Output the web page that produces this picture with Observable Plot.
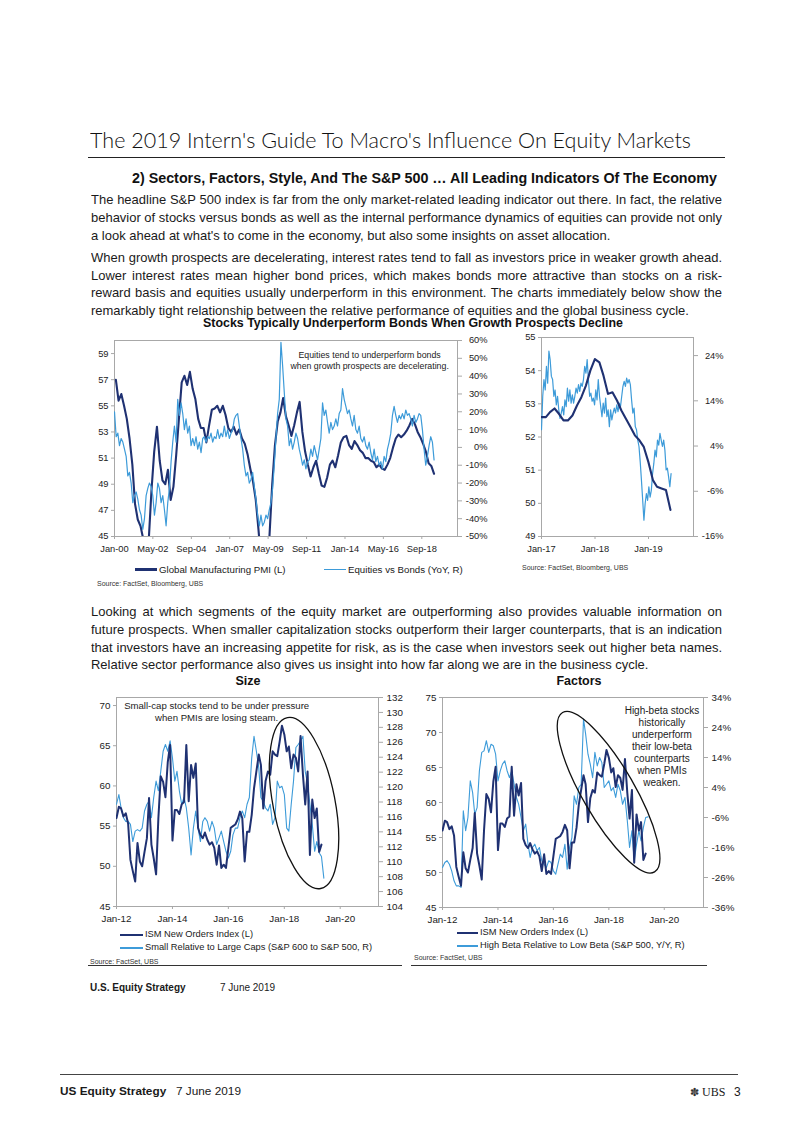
<!DOCTYPE html>
<html><head><meta charset="utf-8"><title>Macro's Influence On Equity Markets</title>
<script src="https://cdn.jsdelivr.net/npm/d3@7"></script>
<script src="https://cdn.jsdelivr.net/npm/@observablehq/plot@0.6"></script>
<style>
html,body{margin:0;padding:0;background:#fff}
#page{position:relative;width:802px;height:1133px;overflow:hidden;background:#fff;color:#1a1a1a}
.t{position:absolute;white-space:nowrap}
.rule{position:absolute;height:0}
.sw{position:absolute}
</style></head>
<body><div id="page"></div>
<script>
// ================= DATA =================
// Chart 1: Stocks vs Bonds (Jan-2000 .. May-2019)
const chart1XTicks = ["2000-01","2002-05","2004-09","2007-01","2009-05","2011-09","2014-01","2016-05","2018-09"];
const chart1LeftTicks = [45,47,49,51,53,55,57,59];
const chart1RightTicks = [-50,-40,-30,-20,-10,0,10,20,30,40,50,60];
// Global Manufacturing PMI, every second month from Jan-2000 to May-2019
const globalPmi = [57.0,55.4,55.9,55.0,54.0,52.5,50.5,47.5,46.3,45.8,
  44.8,44.0,44.8,48.5,51.5,53.4,50.8,49.3,49.0,50.1,
  47.8,48.8,51.2,54.0,56.8,57.3,56.6,57.6,56.3,55.5,
  54.0,53.3,53.3,52.2,53.5,54.7,54.8,55.0,54.5,55.0,
  54.3,53.3,53.0,53.4,52.8,53.2,52.5,52.1,51.3,50.2,
  49.2,47.8,45.5,43.0,41.0,42.5,45.0,49.0,52.0,53.8,
  54.5,55.6,54.2,53.5,52.7,53.5,54.5,55.3,53.0,51.5,
  50.5,49.6,50.3,50.8,49.8,48.9,48.8,49.5,50.5,50.8,
  50.3,51.2,52.2,52.6,52.7,52.0,51.7,52.3,52.0,51.6,
  51.4,51.0,51.0,50.8,50.7,50.3,50.5,50.2,50.1,50.5,
  51.0,51.8,52.5,52.8,52.6,52.8,53.1,53.5,54.0,53.6,
  53.0,52.6,52.1,51.5,50.6,50.4,49.8];
// Equities vs Bonds (YoY %, right axis), evenly spaced observations Jan-2000 .. May-2019
const equitiesVsBonds = [20,6,8,1,5,3,-1,-5,-16,-14,-20,-31,-27,-25,-29,-35,-38,-46,-40,-27,
  -23,-20,-22,-27,-38,-31,-20,-23,-31,-27,-35,-44,-31,-23,-8,3,12,3,27,18,
  25,19,10,16,8,12,1,5,1,6,-1,3,-3,5,6,3,6,5,8,3,
  6,5,10,5,8,6,12,6,10,5,8,10,16,18,19,12,5,-1,-10,-16,
  -14,-20,-18,-14,-22,-29,-38,-44,-38,-44,-42,-38,-40,-35,-31,-23,-10,5,19,27,
  59,46,31,16,12,1,5,-1,3,8,5,-1,-5,-10,-7,-12,-8,-7,-1,-5,
  1,-3,-7,-1,5,25,18,21,14,8,14,10,12,16,12,19,21,33,27,23,
  19,21,16,12,18,10,8,12,5,3,6,1,-1,3,-3,-7,-1,-8,-5,-10,
  -8,-12,-5,-8,-1,3,8,18,23,18,14,18,16,19,16,21,18,19,16,12,
  18,14,16,19,18,10,-1,-10,-5,1,6,3,-7];

// Chart 2: inset (Jan-2017 .. May-2019)
const insetXTicks = ["2017-01","2018-01","2019-01"];
const insetLeftTicks = [49,50,51,52,53,54,55];
const insetRightTicks = [-16,-6,4,14,24];
// monthly, Dec-2016 .. May-2019 (month-end)
const insetPmi = [52.6,52.6,52.75,52.86,52.7,52.5,52.5,52.65,52.95,53.2,53.55,54.0,54.35,
  54.25,53.85,53.3,53.35,53.1,52.8,52.55,52.3,52.05,51.9,51.7,51.25,50.7,50.5,50.45,50.4,49.8];
// Equities vs Bonds (YoY %), evenly spaced observations Jan-2017 .. early Jun-2019
const insetEqVsBonds = [7.6,15,18.7,16.4,21.6,17.9,25,23.1,19.4,18.7,
  15,16.4,13.1,15,12,10.1,11.3,12.7,10.9,14.2,
  12.7,16.8,13.9,16.4,13.5,15.3,13.5,15,16.8,15.7,
  17.6,16.1,17.9,17.2,18.7,21.6,20.1,23.1,18.7,15,
  15.7,13.9,14.6,13.1,16.4,14.2,18.7,15,12.7,10.5,
  13.5,11.3,14.6,10.5,12,8.3,12,9.8,11.3,12.4,
  11.3,13.1,11.6,13.5,12.7,15,17.2,18.3,17.2,19,
  17.9,18.7,17.6,14.2,11.3,12.4,8.3,7.6,5.3,3.9,
  0.5,-3.6,-8,-12.4,-8.7,-6.5,-8,-5,-7.3,-5.8,
  -2.1,0.1,3.1,1.6,5.3,4.2,6.8,5.3,3.9,5.3,
  3.1,-1.3,-0.9,-2.8,-5,-2.1];

// Charts 3 & 4: Size and Factors (monthly from Jan-2012)
const bottomXTicks = ["2012-01","2014-01","2016-01","2018-01","2020-01"];
const sizeLeftTicks = [45,50,55,60,65,70];
const sizeRightTicks = [104,106,108,110,112,114,116,118,120,122,124,126,128,130,132];
const factorsLeftTicks = [45,50,55,60,65,70,75];
const factorsRightTicks = [-36,-26,-16,-6,4,14,24,34];
// ISM New Orders Index, Jan-2012 .. May-2019
const ismNewOrders = [56.0,57.4,57.2,56.2,56.6,55.3,50.8,49.4,48.1,52.9,
  50.6,50.0,51.8,53.5,58.5,52.7,51.0,49.0,56.0,61.2,
  60.5,58.6,63.0,65.1,53.2,57.0,57.0,56.5,57.7,58.0,
  65.1,58.1,62.6,61.0,62.8,54.8,53.9,53.5,54.2,53.3,
  52.7,53.0,52.3,50.2,52.6,49.8,50.2,49.8,52.3,54.8,
  55.0,55.2,55.8,56.8,56.0,50.6,54.3,54.3,56.4,59.7,
  61.8,63.9,62.6,57.2,60.6,61.8,61.4,64.3,63.9,63.7,
  65.5,67.5,66.4,64.3,64.9,62.2,63.9,63.5,61.8,66.2,
  61.4,57.7,61.8,51.4,58.3,56.0,57.2,51.8,52.7];
// Small relative to large caps (S&P 600 / S&P 500), Jan-2012 .. Jun-2019
const smallVsLarge = [117.7,119.0,117.2,115.9,115.4,115.4,115.0,112.7,114.1,114.3,
  114.1,114.5,116.8,117.7,118.1,115.9,118.6,120.8,119.5,122.1,
  124.8,125.7,124.8,126.2,123.9,120.8,122.1,119.5,117.7,118.6,
  117.2,114.5,110.9,114.5,116.8,114.5,112.7,115.4,115.9,115.4,
  114.1,115.4,114.5,112.3,113.2,114.1,112.7,111.4,110.5,111.4,
  113.6,114.5,114.5,115.9,116.8,115.9,117.7,118.6,123.9,126.8,
  124.8,122.6,118.6,118.1,117.2,116.8,117.7,115.0,115.9,120.8,
  119.9,120.1,119.0,114.5,114.1,117.7,120.8,125.3,125.7,126.2,
  126.8,122.1,120.4,117.7,115.0,111.4,112.7,111.2,110.7,107.8];
// High beta relative to low beta (S&P 500, Y/Y %), Jan-2012 .. Jun-2019
const highVsLowBeta = [-22.7,-21,-20.4,-21.6,-23.8,-27.1,-28.8,-28.8,-29.3,-3.8,
  -10.4,-6,6.2,2.3,-4.9,-2.7,9.6,15.7,16.2,19.6,
  15.7,18.4,17.9,15.1,6.2,9.6,11.8,12.9,9.6,7.3,
  9.6,5.1,0.7,-1.6,-6,-10.4,-8.2,-14.9,-19.3,-16,
  -14.9,-17.1,-16,-20.4,-21.6,-22.7,-20.4,-21,-23.8,-24.9,
  -21.6,-18.2,-19.3,-14.9,-23.2,-16,-12.7,1.2,-1.6,4,
  5.1,26.8,21.8,15.1,11.8,7.3,15.7,11.2,14,12.3,
  4,5.1,6.2,2.9,4,0.7,5.1,2.9,-1.6,0.7,
  -7.1,-16,-10.4,-20.4,-14.9,-10.4,-13.8,-9.3,-6,-5.8];

// ================= TEXT =================
const titleText = "The 2019 Intern's Guide To Macro's Influence On Equity Markets";
const subheadText = "2) Sectors, Factors, Style, And The S&P 500 \u2026 All Leading Indicators Of The Economy";
const para1 = ["The headline S&P 500 index is far from the only market-related leading indicator out there. In fact, the relative",
  "behavior of stocks versus bonds as well as the internal performance dynamics of equities can provide not only",
  "a look ahead at what's to come in the economy, but also some insights on asset allocation."];
const para2 = ["When growth prospects are decelerating, interest rates tend to fall as investors price in weaker growth ahead.",
  "Lower interest rates mean higher bond prices, which makes bonds more attractive than stocks on a risk-",
  "reward basis and equities usually underperform in this environment. The charts immediately below show the",
  "remarkably tight relationship between the relative performance of equities and the global business cycle."];
const para3 = ["Looking at which segments of the equity market are outperforming also provides valuable information on",
  "future prospects. When smaller capitalization stocks outperform their larger counterparts, that is an indication",
  "that investors have an increasing appetite for risk, as is the case when investors seek out higher beta names.",
  "Relative sector performance also gives us insight into how far along we are in the business cycle."];

// ================= LAYOUT HELPERS =================
const page = document.getElementById("page");
const SANS = '"Liberation Sans", Arial, sans-serif';
const NARROW = '"Liberation Sans Narrow", "Liberation Sans", Arial, sans-serif';
const DARK = "#1f3172", LIGHT = "#3d9bd9", GRID = "#a8a8a8";

function addText(s, o) {
  const d = document.createElement("div");
  d.className = "t";
  d.textContent = s;
  d.style.fontFamily = o.fam || SANS;
  d.style.fontSize = o.size + "px";
  d.style.lineHeight = o.size + "px";
  d.style.fontWeight = o.weight || 400;
  d.style.color = o.color || "#1a1a1a";
  d.style.top = (o.y - 0.85 * o.size) + "px";
  d.style.left = "0px";
  page.appendChild(d);
  const w = d.getBoundingClientRect().width;
  const sx = o.fitW ? o.fitW / w : 1;
  const fw = w * sx;
  const left = o.x !== undefined ? o.x : (o.cx !== undefined ? o.cx - fw / 2 : o.rx - fw);
  d.style.left = left + "px";
  if (sx !== 1) { d.style.transformOrigin = "0 0"; d.style.transform = `scaleX(${sx})`; }
  return d;
}
function addRule(x1, x2, y, w, c) {
  const d = document.createElement("div");
  d.className = "rule";
  d.style.left = x1 + "px"; d.style.width = (x2 - x1) + "px";
  d.style.top = (y - w / 2) + "px"; d.style.borderTop = `${w}px solid ${c}`;
  page.appendChild(d);
}
function addSwatch(x1, x2, y, h, c) {
  const d = document.createElement("div");
  d.className = "sw";
  d.style.left = x1 + "px"; d.style.width = (x2 - x1) + "px";
  d.style.top = (y - h / 2) + "px"; d.style.height = h + "px"; d.style.background = c;
  page.appendChild(d);
}
function paragraphs(paras, x, width, size) {
  const all = [];
  paras.forEach(p => p.lines.forEach((s, i) => {
    const d = document.createElement("div");
    d.className = "t"; d.textContent = s;
    d.style.fontFamily = NARROW; d.style.fontSize = size + "px"; d.style.lineHeight = size + "px";
    d.style.color = "#1a1a1a";
    d.style.left = x + "px"; d.style.top = (p.y[i] - 0.85 * size) + "px";
    page.appendChild(d);
    all.push({d, s, last: i === p.lines.length - 1, w: d.getBoundingClientRect().width});
  }));
  let k = 1;
  all.forEach(a => { if (!a.last) k = Math.min(k, width / a.w); });
  all.forEach(a => {
    if (!a.last) {
      const n = (a.s.match(/ /g) || []).length;
      a.d.style.wordSpacing = ((width / k - a.w) / n) + "px";
    }
    if (k < 1) { a.d.style.transformOrigin = "0 0"; a.d.style.transform = `scaleX(${k})`; }
  });
}

// ================= PAGE TEXT =================
addText(titleText, {x: 90, y: 148, size: 22, weight: 300, fam: 'Lato, "Liberation Sans", sans-serif', fitW: 601, color: "#111"});
addRule(88, 725, 158, 1.6, "#222");
addText(subheadText, {x: 132, y: 183, size: 14, weight: 700, fam: SANS, fitW: 585, color: "#111"});
paragraphs([
  {lines: para1, y: [204.5, 222.5, 240.5]},
  {lines: para2, y: [262.5, 280.5, 297.5, 315.5]},
  {lines: para3, y: [616.5, 634.5, 652.5, 669.5]}
], 91, 631, 13.5);
addText("Stocks Typically Underperform Bonds When Growth Prospects Decline", {x: 203, y: 327.5, size: 12.5, weight: 700, fam: SANS, fitW: 420, color: "#111"});
addText("Size", {cx: 248, y: 685.5, size: 12.5, weight: 700, fam: SANS, color: "#111"});
addText("Factors", {cx: 579, y: 685.5, size: 12.5, weight: 700, fam: SANS, color: "#111"});

// ================= CHARTS =================
const ym = s => { const [y, m] = s.split("-").map(Number); return new Date(Date.UTC(y, m - 1, 1)); };
const fmtMY = d3.utcFormat("%b-%y");

function dualChart(c) {
  const marks = [
    Plot.frame({stroke: GRID}),
    Plot.axisY(c.leftTicks, {anchor: "left", tickSize: 3, tickPadding: 3, stroke: GRID, label: null, tickFormat: d => String(d)}),
    Plot.axisY(c.rightTicks.map(c.toLeft), {anchor: "right", tickSize: 4, tickPadding: c.rPad, textAnchor: c.rAnchor, stroke: GRID, label: null, tickFormat: c.rFormat}),
    Plot.axisX(c.xTicks.map(ym), {anchor: "bottom", tickSize: 3, tickPadding: 6, stroke: GRID, label: null, tickFormat: fmtMY}),
    ...c.series.map(s => Plot.lineY(s.data, {x: "date", y: "v", stroke: s.color, strokeWidth: s.width, clip: true})),
    ...(c.notes || [])
  ];
  const svg = Plot.plot({
    width: c.W, height: c.H,
    marginTop: c.m[0], marginRight: c.m[1], marginBottom: c.m[2], marginLeft: c.m[3],
    x: {type: "utc", domain: c.xDomain},
    y: {domain: c.yDomain},
    style: {position: "absolute", left: c.left + "px", top: c.top + "px", overflow: "visible",
      background: "transparent", fontFamily: SANS, fontSize: c.fontSize + "px", color: "#222", maxWidth: "none"},
    marks
  });
  page.appendChild(svg);
  if (c.ellipse) {
    const e = c.ellipse;
    const cx = svg.scale("x").apply(e.date), cy = svg.scale("y").apply(e.v);
    d3.select(svg).append("ellipse")
      .attr("cx", cx).attr("cy", cy).attr("rx", e.rx).attr("ry", e.ry)
      .attr("transform", `rotate(${e.rot} ${cx} ${cy})`)
      .attr("fill", "none").attr("stroke", "#111").attr("stroke-width", 1.3);
  }
  return svg;
}
const spaced = (vals, t0, t1, f) => vals.map((p, i) => ({date: new Date(t0 + (t1 - t0) * i / (vals.length - 1)), v: f(p)}));

// ---- Chart 1 ----
const toL1 = p => 45 + (p + 50) * 15 / 110;
const fromL1 = v => (v - 45) * 110 / 15 - 50;
dualChart({
  left: 60, top: 330, W: 437, H: 236, m: [10, 40, 30, 54], fontSize: 9.3,
  xDomain: [new Date(Date.UTC(2000, 0, 1)), new Date(Date.UTC(2020, 10, 1))], yDomain: [45, 60],
  xTicks: chart1XTicks, leftTicks: chart1LeftTicks, rightTicks: chart1RightTicks,
  toLeft: toL1, rFormat: v => Math.round(fromL1(v)) + "%", rPad: 26, rAnchor: "end",
  series: [
    {data: globalPmi.map((v, i) => ({date: new Date(Date.UTC(2000, 2 * i + 1, 0)), v})), color: DARK, width: 2.1},
    {data: spaced(equitiesVsBonds, Date.UTC(2000, 0, 1), Date.UTC(2019, 4, 31), toL1), color: LIGHT, width: 1.2}
  ],
  notes: [Plot.text([{date: new Date(Date.UTC(2015, 6, 1)), v: 58.5,
      label: "Equities tend to underperform bonds\nwhen growth prospects are decelerating."}],
    {x: "date", y: "v", text: "label", fontFamily: SANS, fontSize: 8.8, lineHeight: 1.25, textAnchor: "middle", fill: "#222"})]
});

// ---- Chart 2: inset ----
const toL2 = p => 49 + (p + 16) * 6 / 44;
const fromL2 = v => (v - 49) * 44 / 6 - 16;
dualChart({
  left: 501, top: 330, W: 232, H: 236, m: [7, 40, 30, 40], fontSize: 9.3,
  xDomain: [new Date(Date.UTC(2017, 0, 1)), new Date(Date.UTC(2019, 10, 4))], yDomain: [49, 55],
  xTicks: insetXTicks, leftTicks: insetLeftTicks, rightTicks: insetRightTicks,
  toLeft: toL2, rFormat: v => Math.round(fromL2(v)) + "%", rPad: 26, rAnchor: "end",
  series: [
    {data: spaced(insetEqVsBonds, Date.UTC(2017, 0, 1), Date.UTC(2019, 5, 4), toL2), color: LIGHT, width: 1.2},
    {data: insetPmi.map((v, i) => ({date: new Date(Date.UTC(2017, i, 0)), v})), color: DARK, width: 2.1}
  ]
});

// ---- Chart 3: Size ----
const toL3 = r => 45 + (r - 104) * 26 / 28;
const fromL3 = v => (v - 45) * 28 / 26 + 104;
dualChart({
  left: 80, top: 690, W: 334, H: 246, m: [7, 36, 30, 36], fontSize: 9.8,
  xDomain: [new Date(Date.UTC(2012, 0, 1)), new Date(Date.UTC(2021, 4, 15))], yDomain: [45, 71],
  xTicks: bottomXTicks, leftTicks: sizeLeftTicks, rightTicks: sizeRightTicks,
  toLeft: toL3, rFormat: v => String(Math.round(fromL3(v))), rPad: 4, rAnchor: "start",
  series: [
    {data: smallVsLarge.map((r, i) => ({date: new Date(Date.UTC(2012, i, 1)), v: toL3(r)})), color: LIGHT, width: 1.1},
    {data: ismNewOrders.map((v, i) => ({date: new Date(Date.UTC(2012, i, 1)), v})), color: DARK, width: 2.0}
  ],
  notes: [Plot.text([{date: new Date(Date.UTC(2015, 7, 1)), v: 69.25,
      label: "Small-cap stocks tend to be under pressure\nwhen PMIs are losing steam."}],
    {x: "date", y: "v", text: "label", fontSize: 9.6, lineHeight: 1.25, textAnchor: "middle", fill: "#222"})],
  ellipse: {date: new Date(Date.UTC(2018, 8, 22)), v: 57.8, rx: 31, ry: 87, rot: -11}
});

// ---- Chart 4: Factors ----
const toL4 = p => 45 + (p + 36) * 30 / 70;
const fromL4 = v => (v - 45) * 70 / 30 - 36;
dualChart({
  left: 406, top: 690, W: 337, H: 247, m: [7, 40, 30, 36], fontSize: 9.8,
  xDomain: [new Date(Date.UTC(2012, 0, 1)), new Date(Date.UTC(2021, 5, 1))], yDomain: [45, 75],
  xTicks: bottomXTicks, leftTicks: factorsLeftTicks, rightTicks: factorsRightTicks,
  toLeft: toL4, rFormat: v => Math.round(fromL4(v)) + "%", rPad: 4, rAnchor: "start",
  series: [
    {data: highVsLowBeta.map((p, i) => ({date: new Date(Date.UTC(2012, i, 1)), v: toL4(p)})), color: LIGHT, width: 1.1},
    {data: ismNewOrders.map((v, i) => ({date: new Date(Date.UTC(2012, i, 1)), v})), color: DARK, width: 2.0}
  ],
  notes: [Plot.text([{date: new Date(Date.UTC(2019, 11, 1)), v: 68.1,
      label: "High-beta stocks\nhistorically\nunderperform\ntheir low-beta\ncounterparts\nwhen PMIs\nweaken."}],
    {x: "date", y: "v", text: "label", fontSize: 10, lineHeight: 1.2, textAnchor: "middle", fill: "#222"})],
  ellipse: {date: new Date(Date.UTC(2018, 0, 4)), v: 61.4, rx: 26, ry: 92, rot: -30}
});

// ================= LEGENDS & SOURCES =================
addSwatch(135, 157, 569.5, 2.4, DARK);
addText("Global Manufacturing PMI (L)", {x: 159, y: 573, size: 9.7, fam: SANS});
addSwatch(324, 346, 569.5, 1.2, LIGHT);
addText("Equities vs Bonds (YoY, R)", {x: 348, y: 573, size: 9.7, fam: SANS});
addText("Source: FactSet, Bloomberg, UBS", {x: 97, y: 586, size: 7, fam: SANS, color: "#333"});
addText("Source: FactSet, Bloomberg, UBS", {x: 522, y: 570, size: 7, fam: SANS, color: "#333"});

addSwatch(120, 143, 935, 2.4, DARK);
addText("ISM New Orders Index (L)", {x: 145, y: 938.3, size: 9.3, fam: SANS});
addSwatch(120, 143, 948, 1.2, LIGHT);
addText("Small Relative to Large Caps (S&P 600 to S&P 500, R)", {x: 145, y: 951.3, size: 9.3, fam: SANS});
addText("Source: FactSet, UBS", {x: 90, y: 964, size: 7, fam: SANS, color: "#333"});

addSwatch(457, 478, 933, 2.4, DARK);
addText("ISM New Orders Index (L)", {x: 480, y: 936.3, size: 9.3, fam: SANS});
addSwatch(457, 478, 946, 1.2, LIGHT);
addText("High Beta Relative to Low Beta (S&P 500, Y/Y, R)", {x: 480, y: 949.3, size: 9.3, fam: SANS});
addText("Source: FactSet, UBS", {x: 414, y: 960, size: 7, fam: SANS, color: "#333"});

addRule(88, 402, 966, 1.6, "#333");
addRule(411, 707, 966, 1.6, "#333");

// ================= FOOTERS =================
addText("U.S. Equity Strategy", {x: 90, y: 991.5, size: 10, weight: 700, fam: SANS});
addText("7 June 2019", {x: 220, y: 991.5, size: 10, fam: SANS});
addRule(60, 738, 1075, 1.4, "#444");
addText("US Equity Strategy", {x: 60, y: 1096.5, size: 11.8, weight: 700, fam: SANS});
addText("7 June 2019", {x: 176, y: 1096.5, size: 11.8, fam: SANS});
addText("\u273D", {x: 690, y: 1096.5, size: 11, fam: '"DejaVu Sans", sans-serif', color: "#333"});
addText("UBS", {x: 702, y: 1096.5, size: 12, fam: '"Liberation Serif", serif'});
addText("3", {x: 734, y: 1096.5, size: 12, fam: SANS});
</script>
</body></html>
